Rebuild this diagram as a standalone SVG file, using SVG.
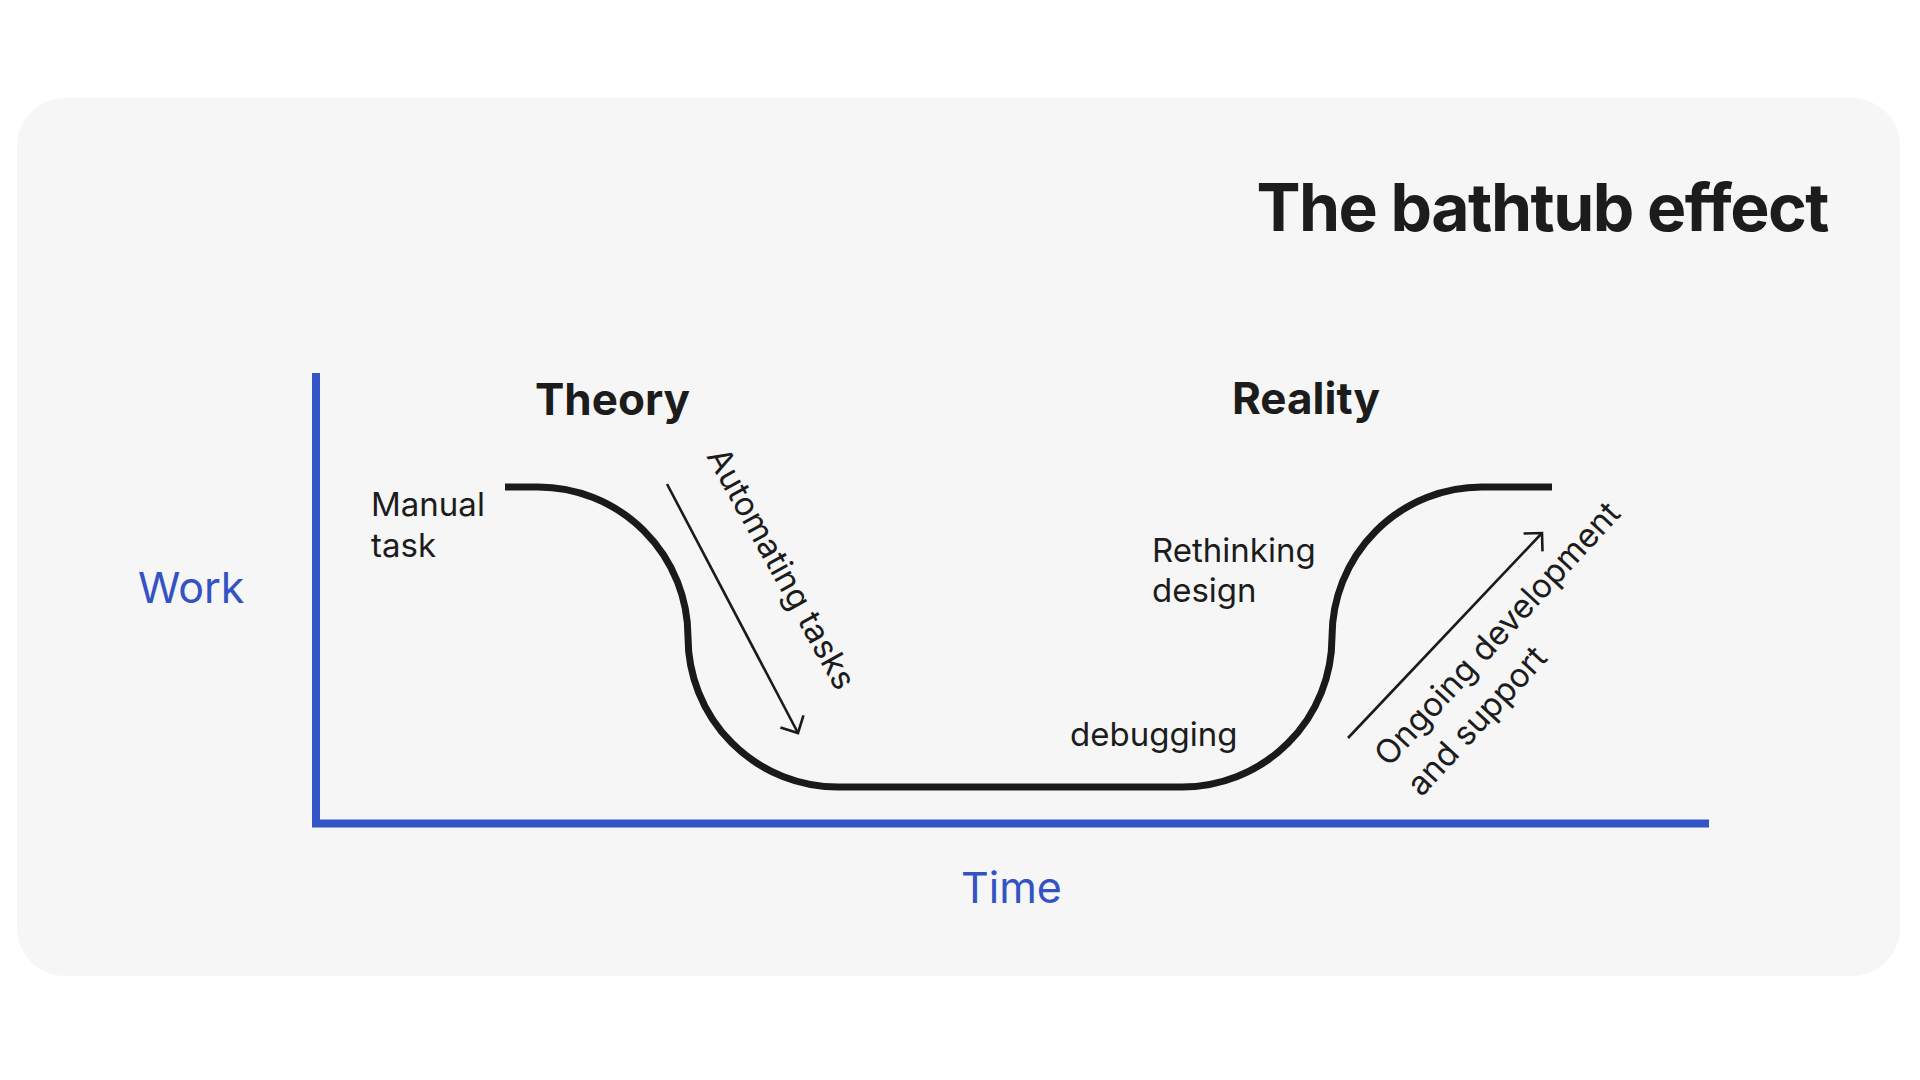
<svg xmlns="http://www.w3.org/2000/svg" width="1920" height="1080" viewBox="0 0 1920 1080">
<style>
.lbl{font-family:Inter,"Noto Sans","Liberation Sans",sans-serif;fill:#1c1c1c;font-size:33px;font-weight:400}
.head{font-family:Inter,"Noto Sans","Liberation Sans",sans-serif;fill:#1c1c1c;font-size:44px;font-weight:700}
.axl{font-family:Inter,"Noto Sans","Liberation Sans",sans-serif;fill:#3352c4;font-size:43px;font-weight:400}
.axis{stroke:#3355c6;stroke-width:8;fill:none}
.curve{stroke:#1a1a1a;stroke-width:7;fill:none}
.arr{stroke:#1a1a1a;stroke-width:2.6;fill:none}
</style>
<defs>
<marker id="ah" markerUnits="userSpaceOnUse" markerWidth="40" markerHeight="40" viewBox="-20 -20 40 40" refX="0" refY="0" orient="auto">
<path d="M-13,-13 L0,0 L-13,13" fill="none" stroke="#1a1a1a" stroke-width="2.6" stroke-linejoin="miter"/>
</marker>
</defs>
<rect width="1920" height="1080" fill="#ffffff"/>
<rect id="card" x="17" y="98" width="1883" height="878" rx="48" fill="#f6f6f6"/>
<g id="title"><text class="head" x="1828" y="231" text-anchor="end" style="font-size:66px;letter-spacing:-1.5px">The bathtub effect</text></g>
<g id="axes">
<line class="axis" x1="316" y1="373" x2="316" y2="827"/>
<line class="axis" x1="312" y1="823.5" x2="1709" y2="823.5"/>
</g>
<g id="work"><text class="axl" x="138" y="603">Work</text></g>
<g id="time"><text class="axl" x="961" y="903">Time</text></g>
<g id="theory"><text class="head" x="535" y="415">Theory</text></g>
<g id="reality"><text class="head" x="1232" y="414">Reality</text></g>
<g id="manual"><text class="lbl" x="371" y="516">Manual<tspan x="371" dy="41">task</tspan></text></g>
<g id="rethinking"><text class="lbl" x="1152" y="562">Rethinking<tspan x="1152" dy="40">design</tspan></text></g>
<g id="debugging"><text class="lbl" x="1070" y="746">debugging</text></g>
<g id="curve"><path class="curve" d="M505,487 H538 A150,150 0 0 1 688,637 A150,150 0 0 0 838,787 H1182 A150,150 0 0 0 1332,637 A150,150 0 0 1 1482,487 H1552"/></g>
<g id="connectors">
<line class="arr" x1="667" y1="484" x2="798" y2="733" marker-end="url(#ah)"/>
<line class="arr" x1="1348" y1="738" x2="1542" y2="533" marker-end="url(#ah)"/>
</g>
<g id="automating"><text class="lbl" transform="translate(706 456) rotate(61)">Automating tasks</text></g>
<g id="ongoing"><text class="lbl" transform="translate(1389 768) rotate(-47.4)">Ongoing development<tspan x="0" dy="44">and support</tspan></text></g>
</svg>
